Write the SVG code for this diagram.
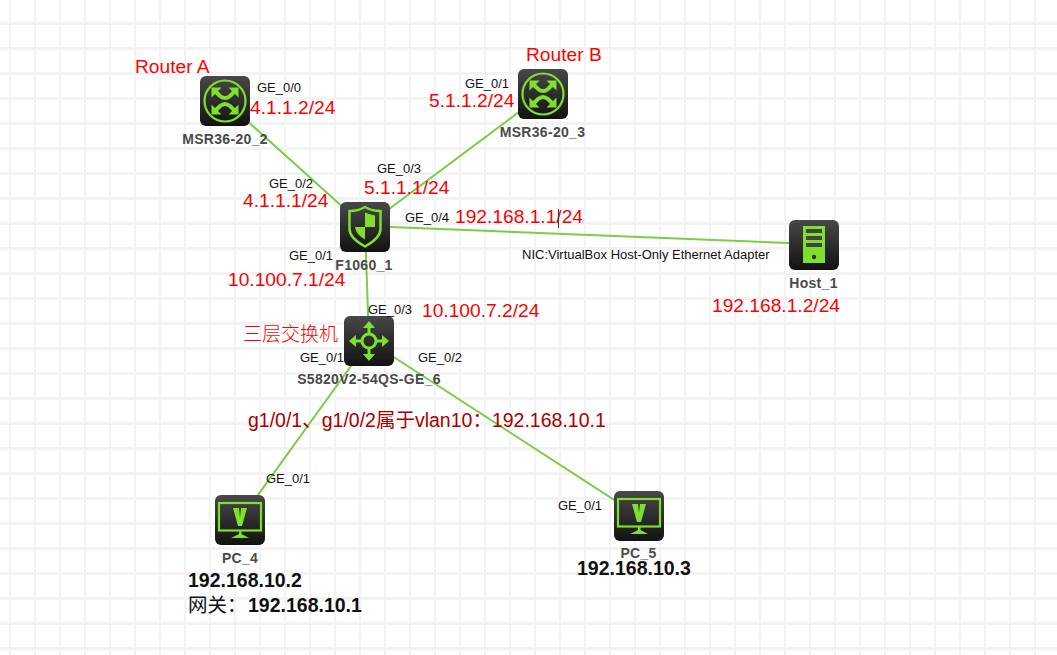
<svg xmlns="http://www.w3.org/2000/svg" width="1057" height="655" viewBox="0 0 1057 655">
<defs>
<linearGradient id="bg" x1="0" y1="0" x2="0" y2="1"><stop offset="0" stop-color="#484848"/><stop offset="1" stop-color="#121212"/></linearGradient>
<pattern id="grid" width="25" height="25" patternUnits="userSpaceOnUse" x="-16" y="-3">
<rect x="0" y="0" width="25" height="25" fill="#fff"/>
<rect x="0" y="0" width="25" height="3" fill="#f3f3f3"/>
<rect x="0" y="0" width="2" height="25" fill="#f3f3f3"/>
</pattern>
<rect id="tile" width="50" height="50" rx="6" fill="url(#bg)"/>
<g id="router">
<use href="#tile"/>
<circle cx="25" cy="25" r="20.5" fill="none" stroke="#7ee02c" stroke-width="2.200"/>
<path d="M11.500 11.500h10l-10 10zM38.500 11.500v10l-10-10zM11.500 38.500v-10l10 10zM38.500 38.500h-10l10-10z" fill="#7ee02c"/>
<path d="M15 15l5 5q5 4 10 0l5-5M15 35l5-5q5-4 10 0l5 5" fill="none" stroke="#7ee02c" stroke-width="4"/>
</g>
<g id="pc">
<use href="#tile"/>
<rect x="4" y="8" width="42" height="27.500" fill="none" stroke="#7ee02c" stroke-width="2.200"/>
<path d="M18 13h6l1 9 1-9h6l-5 18h-4z" fill="#7ee02c"/>
<path d="M24 36h2.500v3l7.500 4h-18l8-4z" fill="#7ee02c"/>
</g>
</defs>
<style>
.port{font:13px "Liberation Sans",Arial,sans-serif;fill:#111}
.name{font:bold 14px "Liberation Sans",Arial,sans-serif;fill:#4a4a4a;text-anchor:middle;letter-spacing:.3px}
.ip{font:19.2px "Liberation Sans",Arial,sans-serif;fill:#f00}
.dark{font:19.5px "Liberation Sans","Noto Sans CJK SC",sans-serif;fill:#a80000}
.blk{font:bold 19.5px "Liberation Sans","Noto Sans CJK SC",sans-serif;fill:#111}
.link{stroke:#7ccc46;stroke-width:2;fill:none}
</style>
<rect width="1057" height="655" fill="url(#grid)"/>
<g id="connectors">
<line class="link" x1="225" y1="101" x2="365" y2="227"/>
<line class="link" x1="543" y1="94" x2="365" y2="227"/>
<line class="link" x1="365" y1="226" x2="814" y2="244"/>
<line class="link" x1="365" y1="227" x2="369" y2="341"/>
<line class="link" x1="369" y1="341" x2="240" y2="520"/>
<line class="link" x1="369" y1="341" x2="639" y2="516"/>
</g>
<g id="router-a">
<use href="#router" x="200" y="76"/>
<text class="name" x="225" y="144">MSR36-20_2</text>
</g>
<g id="router-b">
<use href="#router" x="518" y="69"/>
<text class="name" x="542.500" y="137">MSR36-20_3</text>
</g>
<g id="firewall">
<use href="#tile" x="340" y="202"/>
<path d="M365 207q7 4 15.500 4v18q0 9-15.500 17.500q-15.500-8.500-15.500-17.500v-18q8.500 0 15.500-4z" fill="none" stroke="#7ee02c" stroke-width="2.500"/>
<path d="M365 212.500q5 2 10 3v11.500h-10zM365 227v12.500q-9-5-10-12.500z" fill="#7ee02c"/>
<text class="name" x="364" y="270">F1060_1</text>
</g>
<g id="switch">
<use href="#tile" x="344" y="316"/>
<circle cx="369" cy="341" r="7" fill="none" stroke="#7ee02c" stroke-width="3"/>
<path d="M369 321l-6 7h4.500v5h3v-5h4.500zM369 361l-6-7h4.500v-5h3v5h4.500zM349 341l7-6v4.500h5v3h-5v4.500zM389 341l-7-6v4.500h-5v3h5v4.500z" fill="#7ee02c"/>
<text class="name" x="369" y="384">S5820V2-54QS-GE_6</text>
</g>
<g id="host">
<use href="#tile" x="789" y="220"/>
<rect x="803" y="226" width="22" height="37" fill="#7ee02c"/>
<rect x="806" y="229" width="16" height="4" fill="#444"/><rect x="806" y="236" width="16" height="4" fill="#444"/><rect x="806" y="243" width="16" height="4" fill="#444"/>
<circle cx="814" cy="257" r="2.200" fill="#333"/>
<text class="name" x="813.500" y="288">Host_1</text>
</g>
<g id="pc-4">
<use href="#pc" x="215" y="495"/>
<text class="name" x="240" y="563">PC_4</text>
</g>
<g id="pc-5">
<use href="#pc" x="614" y="491"/>
<text class="name" x="638.500" y="558">PC_5</text>
</g>
<g id="labels">
<text class="port" x="257" y="92">GE_0/0</text>
<text class="port" x="269" y="188">GE_0/2</text>
<text class="port" x="377" y="173">GE_0/3</text>
<text class="port" x="465" y="88">GE_0/1</text>
<text class="port" x="405" y="222">GE_0/4</text>
<text class="port" x="289" y="260">GE_0/1</text>
<text class="port" x="368" y="314">GE_0/3</text>
<text class="port" x="300" y="362">GE_0/1</text>
<text class="port" x="418" y="362">GE_0/2</text>
<text class="port" x="266" y="483">GE_0/1</text>
<text class="port" x="558" y="510">GE_0/1</text>
<text class="port" x="522" y="259">NIC:VirtualBox Host-Only Ethernet Adapter</text>
<text class="ip" x="135" y="72.500">Router A</text>
<text class="ip" x="526" y="60.500">Router B</text>
<text class="ip" x="250" y="114">4.1.1.2/24</text>
<text class="ip" x="429" y="107">5.1.1.2/24</text>
<text class="ip" x="364" y="194">5.1.1.1/24</text>
<text class="ip" x="243" y="207">4.1.1.1/24</text>
<text class="ip" x="455" y="223">192.168.1.1/24</text>
<line x1="558.500" y1="209" x2="558.500" y2="228" stroke="#333" stroke-width="1"/>
<text class="ip" x="228" y="286">10.100.7.1/24</text>
<text class="ip" x="422" y="317">10.100.7.2/24</text>
<text class="ip" x="712" y="312">192.168.1.2/24</text>
<text x="243" y="341" style="font:300 19px 'Noto Sans CJK SC','Liberation Sans',sans-serif;fill:#f00">三层交换机</text>
<text class="dark" x="248" y="427">g1/0/1、g1/0/2属于vlan10：192.168.10.1</text>
<text class="blk" x="188" y="587">192.168.10.2</text>
<text class="blk" x="188" y="612"><tspan style="font-weight:400">网关：</tspan><tspan x="248">192.168.10.1</tspan></text>
<text class="blk" x="577" y="575">192.168.10.3</text>
</g>
</svg>
